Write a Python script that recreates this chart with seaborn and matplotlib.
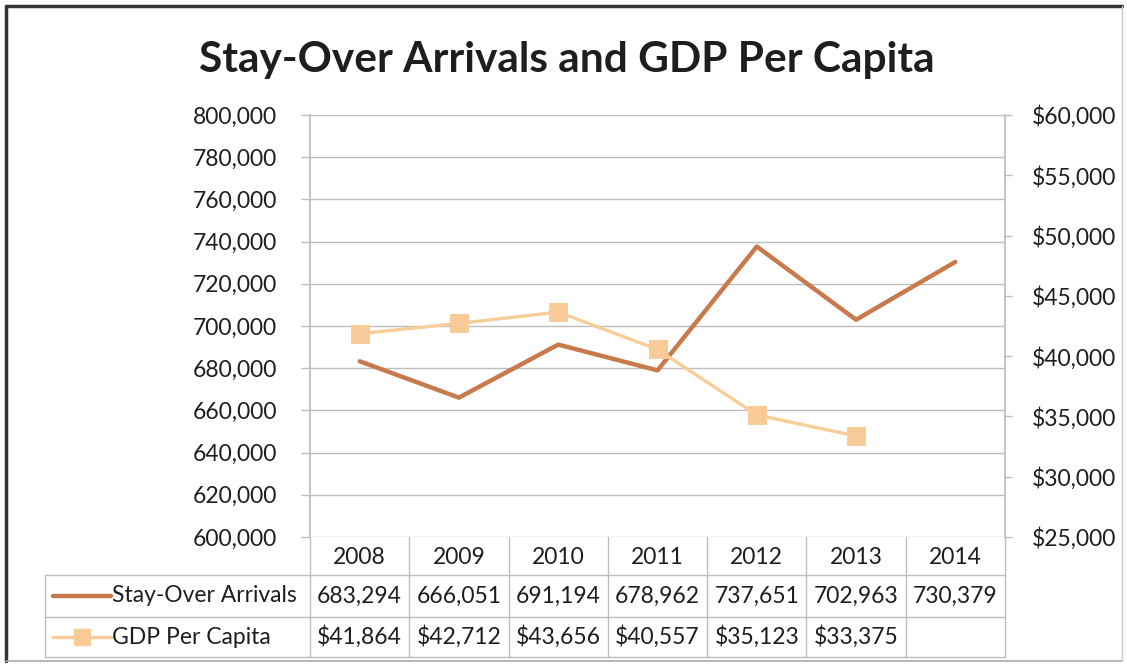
import matplotlib
matplotlib.use("Agg")
import matplotlib.pyplot as plt
from matplotlib.lines import Line2D
import seaborn as sns
import numpy as np
import pandas as pd

years = ["2008", "2009", "2010", "2011", "2012", "2013", "2014"]
arrivals = [683294, 666051, 691194, 678962, 737651, 702963, 730379]
gdp = [41864, 42712, 43656, 40557, 35123, 33375, np.nan]

left_ticks = np.arange(600000, 800001, 20000)
right_ticks = np.arange(25000, 60001, 5000)

c_arr = "#C97A4C"
c_gdp = "#F7CD98"
c_grid = "#BDBDBD"

sns.set_theme(style="white")
plt.rcParams["font.family"] = ["Lato", "DejaVu Sans"]

df = pd.DataFrame({"x": np.arange(len(years)), "arr": arrivals, "gdp": gdp})

W, H = 1127, 669
fig = plt.figure(figsize=(W / 100, H / 100), dpi=100)
ax = fig.add_axes([310 / W, 1 - 537 / H, 695 / W, 422 / H])
ax2 = ax.twinx()

sns.lineplot(data=df, x="x", y="arr", ax=ax, color=c_arr, lw=3.2, zorder=3)
sns.lineplot(data=df.dropna(), x="x", y="gdp", ax=ax2, color=c_gdp, lw=2.4,
             marker="s", markersize=13, markeredgecolor=c_gdp, markerfacecolor="#F9CA98")

ax.set_xlim(-0.5, len(years) - 0.5)
ax.set_ylim(600000, 800000)
ax2.set_ylim(25000, 60000)
ax.set_yticks(left_ticks)
ax.set_yticklabels([f"{v:,}" for v in left_ticks])
ax2.set_yticks(right_ticks)
ax2.set_yticklabels([f"${v:,}" for v in right_ticks])
ax.set_xticks([])
ax.set_xlabel("")
ax.set_ylabel("")
ax2.set_ylabel("")
ax.grid(axis="y", color=c_grid, lw=1)
ax.set_axisbelow(True)

for a in (ax, ax2):
    for s in a.spines.values():
        s.set_visible(False)
ax.spines["left"].set_visible(True)
ax.spines["left"].set_color(c_grid)
ax2.spines["right"].set_visible(True)
ax2.spines["right"].set_color(c_grid)

fs = 16.5
ax.tick_params(axis="y", which="both", left=True, length=6.5, width=1, color=c_grid,
               pad=17, labelsize=fs, labelcolor="#1E1E1E")
ax2.tick_params(axis="y", which="both", right=True, length=5, width=1, color=c_grid,
                pad=14, labelsize=fs, labelcolor="#1E1E1E")

# data table under the plot
tr = ax.transAxes
n = len(years)
h_head, h_r1, h_r2 = 38 / 422, 80 / 422, 120 / 422
x_leg = (45 - 310) / 695
tl = dict(color=c_grid, lw=1, transform=tr, clip_on=False)
for i in range(n + 1):
    ax.add_line(Line2D([i / n, i / n], [0, -h_r2], **tl))
for yy in (h_head, h_r1, h_r2):
    ax.add_line(Line2D([x_leg, 1], [-yy, -yy], **tl))
ax.add_line(Line2D([x_leg, x_leg], [-h_head, -h_r2], **tl))

txt = dict(transform=tr, fontsize=fs, color="#1E1E1E", va="center", clip_on=False)
for i, yr in enumerate(years):
    ax.text((i + 0.5) / n, -20 / 422, yr, ha="center", **txt)
for i, v in enumerate(arrivals):
    ax.text((i + 0.5) / n, -59 / 422, f"{v:,}", ha="center", **txt)
for i, v in enumerate(gdp):
    if not np.isnan(v):
        ax.text((i + 0.5) / n, -100 / 422, f"${int(v):,}", ha="center", **txt)

k0, k1 = (53 - 310) / 695, (111 - 310) / 695
ax.add_line(Line2D([k0, k1], [-59 / 422, -59 / 422], color=c_arr, lw=3.2,
                   transform=tr, clip_on=False))
ax.add_line(Line2D([k0, k1], [-100 / 422, -100 / 422], color=c_gdp, lw=2.4,
                   transform=tr, clip_on=False))
ax.add_line(Line2D([(k0 + k1) / 2], [-100 / 422], color=c_gdp, marker="s", markersize=12,
                   markerfacecolor="#F9CA98", markeredgecolor=c_gdp,
                   transform=tr, clip_on=False))
lab_x = (112 - 310) / 695
ax.text(lab_x, -59 / 422, "Stay-Over Arrivals", ha="left", **txt)
ax.text(lab_x, -100 / 422, "GDP Per Capita", ha="left", **txt)

fig.text(567 / W, 1 - 60 / H, "Stay-Over Arrivals and GDP Per Capita", ha="center",
         va="center", fontsize=30.5, fontweight="bold", color="#1E1E1E")

# chart frame
fig.add_artist(Line2D([6 / W, 1122 / W], [1 - 6 / H, 1 - 6 / H], color="#333333", lw=2.5,
                      transform=fig.transFigure))
fig.add_artist(Line2D([6 / W, 6 / W], [1 - 6 / H, 1 - 661 / H], color="#333333", lw=2.5,
                      transform=fig.transFigure))
fig.add_artist(Line2D([6 / W, 1122 / W], [1 - 661 / H, 1 - 661 / H], color="#AAAAAA", lw=1.2,
                      transform=fig.transFigure))
fig.add_artist(Line2D([1122 / W, 1122 / W], [1 - 6 / H, 1 - 661 / H], color="#CCCCCC", lw=1,
                      transform=fig.transFigure))

fig.savefig("out.png", dpi=100)
